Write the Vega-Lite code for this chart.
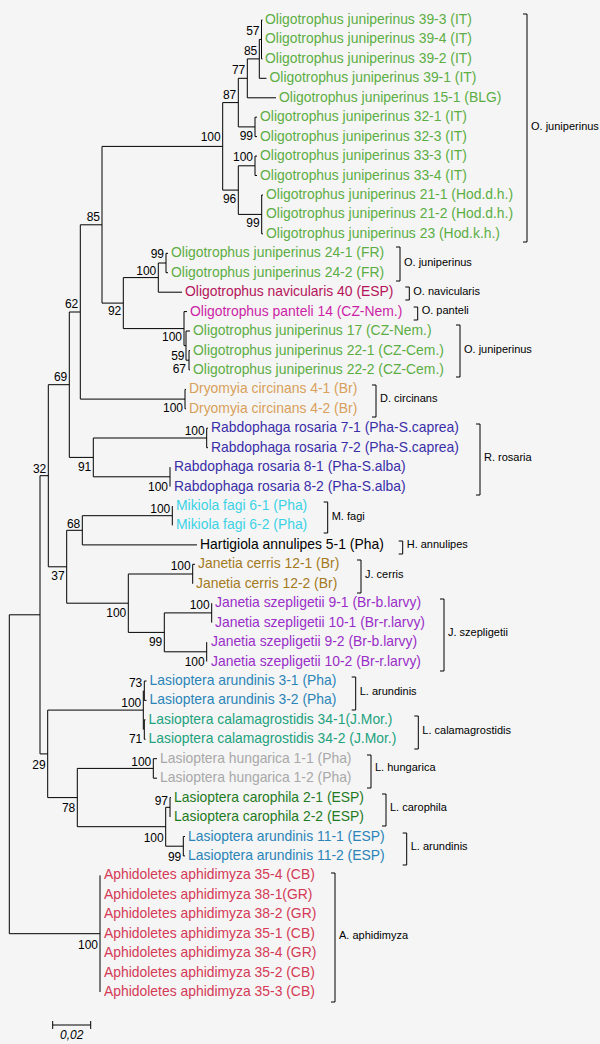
{
  "$schema": "https://vega.github.io/schema/vega-lite/v6.json",
  "width": 600,
  "height": 1044,
  "autosize": {"type": "fit", "contains": "padding"},
  "padding": 0,
  "background": "#f5f5f5",
  "config": {"view": {"stroke": null}, "text": {"font": "Liberation Sans"}},
  "datasets": {
    "edges": [
      {"x": 9.3, "y": 614.8, "x2": 9.3, "y2": 933.7},
      {"x": 9.3, "y": 614.8, "x2": 40, "y2": 614.8},
      {"x": 9.3, "y": 933.7, "x2": 100, "y2": 933.7},
      {"x": 40, "y": 475.7, "x2": 40, "y2": 753.9},
      {"x": 40, "y": 475.7, "x2": 48.3, "y2": 475.7},
      {"x": 40, "y": 753.9, "x2": 47.7, "y2": 753.9},
      {"x": 48.3, "y": 384.7, "x2": 48.3, "y2": 566.8},
      {"x": 48.3, "y": 384.7, "x2": 69.3, "y2": 384.7},
      {"x": 48.3, "y": 566.8, "x2": 66.7, "y2": 566.8},
      {"x": 69.3, "y": 312, "x2": 69.3, "y2": 457.4},
      {"x": 69.3, "y": 312, "x2": 80.3, "y2": 312},
      {"x": 69.3, "y": 457.4, "x2": 93.3, "y2": 457.4},
      {"x": 80.3, "y": 224.8, "x2": 80.3, "y2": 399.1},
      {"x": 80.3, "y": 224.8, "x2": 102, "y2": 224.8},
      {"x": 80.3, "y": 399.1, "x2": 185, "y2": 399.1},
      {"x": 102, "y": 146.4, "x2": 102, "y2": 303.1},
      {"x": 102, "y": 146.4, "x2": 222.7, "y2": 146.4},
      {"x": 102, "y": 303.1, "x2": 123.3, "y2": 303.1},
      {"x": 222.7, "y": 102.6, "x2": 222.7, "y2": 190.1},
      {"x": 222.7, "y": 102.6, "x2": 238.3, "y2": 102.6},
      {"x": 222.7, "y": 190.1, "x2": 238.3, "y2": 190.1},
      {"x": 238.3, "y": 78.3, "x2": 238.3, "y2": 126.9},
      {"x": 238.3, "y": 78.3, "x2": 247.3, "y2": 78.3},
      {"x": 238.3, "y": 126.9, "x2": 255, "y2": 126.9},
      {"x": 247.3, "y": 58.9, "x2": 247.3, "y2": 97.8},
      {"x": 247.3, "y": 58.9, "x2": 259.3, "y2": 58.9},
      {"x": 247.3, "y": 97.8, "x2": 276, "y2": 97.8},
      {"x": 259.3, "y": 39.4, "x2": 259.3, "y2": 78.3},
      {"x": 259.3, "y": 39.4, "x2": 261.5, "y2": 39.4},
      {"x": 259.3, "y": 78.3, "x2": 266.5, "y2": 78.3},
      {"x": 261.5, "y": 20, "x2": 261.5, "y2": 58.9},
      {"x": 261.5, "y": 20, "x2": 262.5, "y2": 20},
      {"x": 261.5, "y": 58.9, "x2": 262.5, "y2": 58.9},
      {"x": 255, "y": 117.2, "x2": 255, "y2": 136.6},
      {"x": 255, "y": 117.2, "x2": 257, "y2": 117.2},
      {"x": 255, "y": 136.6, "x2": 257, "y2": 136.6},
      {"x": 238.3, "y": 165.8, "x2": 238.3, "y2": 214.4},
      {"x": 238.3, "y": 165.8, "x2": 255, "y2": 165.8},
      {"x": 238.3, "y": 214.4, "x2": 261.7, "y2": 214.4},
      {"x": 255, "y": 156.1, "x2": 255, "y2": 175.5},
      {"x": 255, "y": 156.1, "x2": 257, "y2": 156.1},
      {"x": 255, "y": 175.5, "x2": 257, "y2": 175.5},
      {"x": 261.7, "y": 195, "x2": 261.7, "y2": 233.8},
      {"x": 261.7, "y": 195, "x2": 263, "y2": 195},
      {"x": 261.7, "y": 233.8, "x2": 263, "y2": 233.8},
      {"x": 123.3, "y": 277.6, "x2": 123.3, "y2": 328.6},
      {"x": 123.3, "y": 277.6, "x2": 158.3, "y2": 277.6},
      {"x": 123.3, "y": 328.6, "x2": 184, "y2": 328.6},
      {"x": 158.3, "y": 263, "x2": 158.3, "y2": 292.2},
      {"x": 158.3, "y": 263, "x2": 166, "y2": 263},
      {"x": 158.3, "y": 292.2, "x2": 182, "y2": 292.2},
      {"x": 166, "y": 253.3, "x2": 166, "y2": 272.7},
      {"x": 166, "y": 253.3, "x2": 168, "y2": 253.3},
      {"x": 166, "y": 272.7, "x2": 168, "y2": 272.7},
      {"x": 184, "y": 311.6, "x2": 184, "y2": 345.6},
      {"x": 184, "y": 311.6, "x2": 187, "y2": 311.6},
      {"x": 184, "y": 345.6, "x2": 186, "y2": 345.6},
      {"x": 186, "y": 331, "x2": 186, "y2": 360.2},
      {"x": 186, "y": 331, "x2": 190, "y2": 331},
      {"x": 186, "y": 360.2, "x2": 189, "y2": 360.2},
      {"x": 189, "y": 350.5, "x2": 189, "y2": 369.9},
      {"x": 189, "y": 350.5, "x2": 190, "y2": 350.5},
      {"x": 189, "y": 369.9, "x2": 190, "y2": 369.9},
      {"x": 185, "y": 389.4, "x2": 185, "y2": 408.8},
      {"x": 185, "y": 389.4, "x2": 186, "y2": 389.4},
      {"x": 185, "y": 408.8, "x2": 186, "y2": 408.8},
      {"x": 93.3, "y": 438, "x2": 93.3, "y2": 476.8},
      {"x": 93.3, "y": 438, "x2": 206.7, "y2": 438},
      {"x": 93.3, "y": 476.8, "x2": 170, "y2": 476.8},
      {"x": 206.7, "y": 428.2, "x2": 206.7, "y2": 447.7},
      {"x": 206.7, "y": 428.2, "x2": 208, "y2": 428.2},
      {"x": 206.7, "y": 447.7, "x2": 208, "y2": 447.7},
      {"x": 170, "y": 467.1, "x2": 170, "y2": 486.6},
      {"x": 66.7, "y": 530.3, "x2": 66.7, "y2": 603.2},
      {"x": 66.7, "y": 530.3, "x2": 82.3, "y2": 530.3},
      {"x": 66.7, "y": 603.2, "x2": 128.3, "y2": 603.2},
      {"x": 82.3, "y": 515.7, "x2": 82.3, "y2": 544.9},
      {"x": 82.3, "y": 515.7, "x2": 172.3, "y2": 515.7},
      {"x": 82.3, "y": 544.9, "x2": 197, "y2": 544.9},
      {"x": 172.3, "y": 506, "x2": 172.3, "y2": 525.4},
      {"x": 128.3, "y": 574, "x2": 128.3, "y2": 632.4},
      {"x": 128.3, "y": 574, "x2": 192.7, "y2": 574},
      {"x": 128.3, "y": 632.4, "x2": 164.3, "y2": 632.4},
      {"x": 192.7, "y": 564.3, "x2": 192.7, "y2": 583.8},
      {"x": 192.7, "y": 564.3, "x2": 195, "y2": 564.3},
      {"x": 164.3, "y": 612.9, "x2": 164.3, "y2": 651.8},
      {"x": 164.3, "y": 612.9, "x2": 211.7, "y2": 612.9},
      {"x": 164.3, "y": 651.8, "x2": 206.7, "y2": 651.8},
      {"x": 211.7, "y": 603.2, "x2": 211.7, "y2": 622.6},
      {"x": 206.7, "y": 642.1, "x2": 206.7, "y2": 661.5},
      {"x": 47.7, "y": 710.1, "x2": 47.7, "y2": 797.6},
      {"x": 47.7, "y": 710.1, "x2": 143.3, "y2": 710.1},
      {"x": 47.7, "y": 797.6, "x2": 77.3, "y2": 797.6},
      {"x": 143.3, "y": 690.7, "x2": 143.3, "y2": 729.6},
      {"x": 144.3, "y": 681, "x2": 144.3, "y2": 700.4},
      {"x": 144.3, "y": 681, "x2": 146.5, "y2": 681},
      {"x": 144.3, "y": 700.4, "x2": 146.5, "y2": 700.4},
      {"x": 144.3, "y": 719.8, "x2": 144.3, "y2": 739.3},
      {"x": 144.3, "y": 719.8, "x2": 145.5, "y2": 719.8},
      {"x": 144.3, "y": 739.3, "x2": 145.5, "y2": 739.3},
      {"x": 77.3, "y": 768.4, "x2": 77.3, "y2": 826.7},
      {"x": 77.3, "y": 768.4, "x2": 153.3, "y2": 768.4},
      {"x": 77.3, "y": 826.7, "x2": 165.7, "y2": 826.7},
      {"x": 153.3, "y": 758.7, "x2": 153.3, "y2": 778.2},
      {"x": 153.3, "y": 758.7, "x2": 157, "y2": 758.7},
      {"x": 153.3, "y": 778.2, "x2": 157, "y2": 778.2},
      {"x": 165.7, "y": 807.3, "x2": 165.7, "y2": 846.2},
      {"x": 165.7, "y": 807.3, "x2": 170, "y2": 807.3},
      {"x": 165.7, "y": 846.2, "x2": 183.3, "y2": 846.2},
      {"x": 170, "y": 797.6, "x2": 170, "y2": 817},
      {"x": 170, "y": 797.6, "x2": 171, "y2": 797.6},
      {"x": 183.3, "y": 836.5, "x2": 183.3, "y2": 855.9},
      {"x": 183.3, "y": 836.5, "x2": 185, "y2": 836.5},
      {"x": 183.3, "y": 855.9, "x2": 185, "y2": 855.9},
      {"x": 100, "y": 875.4, "x2": 100, "y2": 992},
      {"x": 52.7, "y": 1025, "x2": 90.7, "y2": 1025},
      {"x": 52.7, "y": 1021, "x2": 52.7, "y2": 1029},
      {"x": 90.7, "y": 1021, "x2": 90.7, "y2": 1029}
    ],
    "brackets": [
      {"x": 527, "y": 14, "x2": 527, "y2": 242}, {"x": 523, "y": 14, "x2": 527, "y2": 14}, {"x": 523, "y": 242, "x2": 527, "y2": 242},
      {"x": 400, "y": 247, "x2": 400, "y2": 281}, {"x": 396, "y": 247, "x2": 400, "y2": 247}, {"x": 396, "y": 281, "x2": 400, "y2": 281},
      {"x": 409.3, "y": 287, "x2": 409.3, "y2": 300}, {"x": 405.3, "y": 287, "x2": 409.3, "y2": 287}, {"x": 405.3, "y": 300, "x2": 409.3, "y2": 300},
      {"x": 417.7, "y": 307, "x2": 417.7, "y2": 320}, {"x": 413.7, "y": 307, "x2": 417.7, "y2": 307}, {"x": 413.7, "y": 320, "x2": 417.7, "y2": 320},
      {"x": 460, "y": 325, "x2": 460, "y2": 377}, {"x": 456, "y": 325, "x2": 460, "y2": 325}, {"x": 456, "y": 377, "x2": 460, "y2": 377},
      {"x": 376, "y": 385, "x2": 376, "y2": 417}, {"x": 372, "y": 385, "x2": 376, "y2": 385}, {"x": 372, "y": 417, "x2": 376, "y2": 417},
      {"x": 480, "y": 424, "x2": 480, "y2": 495}, {"x": 476, "y": 424, "x2": 480, "y2": 424}, {"x": 476, "y": 495, "x2": 480, "y2": 495},
      {"x": 327.7, "y": 502, "x2": 327.7, "y2": 533}, {"x": 323.7, "y": 502, "x2": 327.7, "y2": 502}, {"x": 323.7, "y": 533, "x2": 327.7, "y2": 533},
      {"x": 402.7, "y": 541, "x2": 402.7, "y2": 554}, {"x": 398.7, "y": 541, "x2": 402.7, "y2": 541}, {"x": 398.7, "y": 554, "x2": 402.7, "y2": 554},
      {"x": 361, "y": 560, "x2": 361, "y2": 593}, {"x": 357, "y": 560, "x2": 361, "y2": 560}, {"x": 357, "y": 593, "x2": 361, "y2": 593},
      {"x": 444, "y": 599, "x2": 444, "y2": 671}, {"x": 440, "y": 599, "x2": 444, "y2": 599}, {"x": 440, "y": 671, "x2": 444, "y2": 671},
      {"x": 355.7, "y": 677, "x2": 355.7, "y2": 710}, {"x": 351.7, "y": 677, "x2": 355.7, "y2": 677}, {"x": 351.7, "y": 710, "x2": 355.7, "y2": 710},
      {"x": 418.3, "y": 716, "x2": 418.3, "y2": 749}, {"x": 414.3, "y": 716, "x2": 418.3, "y2": 716}, {"x": 414.3, "y": 749, "x2": 418.3, "y2": 749},
      {"x": 371, "y": 755, "x2": 371, "y2": 788}, {"x": 367, "y": 755, "x2": 371, "y2": 755}, {"x": 367, "y": 788, "x2": 371, "y2": 788},
      {"x": 386, "y": 794, "x2": 386, "y2": 826}, {"x": 382, "y": 794, "x2": 386, "y2": 794}, {"x": 382, "y": 826, "x2": 386, "y2": 826},
      {"x": 406.7, "y": 833, "x2": 406.7, "y2": 865}, {"x": 402.7, "y": 833, "x2": 406.7, "y2": 833}, {"x": 402.7, "y": 865, "x2": 406.7, "y2": 865},
      {"x": 335, "y": 873, "x2": 335, "y2": 1002}, {"x": 331, "y": 873, "x2": 335, "y2": 873}, {"x": 331, "y": 1002, "x2": 335, "y2": 1002}
    ],
    "leaves": [
      {"x": 262, "y": 20, "label": "Oligotrophus juniperinus 39-3 (IT)", "species": "O. juniperinus"},
      {"x": 262, "y": 39.4, "label": "Oligotrophus juniperinus 39-4 (IT)", "species": "O. juniperinus"},
      {"x": 262, "y": 58.9, "label": "Oligotrophus juniperinus 39-2 (IT)", "species": "O. juniperinus"},
      {"x": 266.5, "y": 78.3, "label": "Oligotrophus juniperinus 39-1 (IT)", "species": "O. juniperinus"},
      {"x": 276, "y": 97.8, "label": "Oligotrophus juniperinus 15-1 (BLG)", "species": "O. juniperinus"},
      {"x": 257, "y": 117.2, "label": "Oligotrophus juniperinus 32-1 (IT)", "species": "O. juniperinus"},
      {"x": 257, "y": 136.6, "label": "Oligotrophus juniperinus 32-3 (IT)", "species": "O. juniperinus"},
      {"x": 257, "y": 156.1, "label": "Oligotrophus juniperinus 33-3 (IT)", "species": "O. juniperinus"},
      {"x": 257, "y": 175.5, "label": "Oligotrophus juniperinus 33-4 (IT)", "species": "O. juniperinus"},
      {"x": 263, "y": 195, "label": "Oligotrophus juniperinus 21-1 (Hod.d.h.)", "species": "O. juniperinus"},
      {"x": 263, "y": 214.4, "label": "Oligotrophus juniperinus 21-2 (Hod.d.h.)", "species": "O. juniperinus"},
      {"x": 263, "y": 233.8, "label": "Oligotrophus juniperinus 23 (Hod.k.h.)", "species": "O. juniperinus"},
      {"x": 168, "y": 253.3, "label": "Oligotrophus juniperinus 24-1 (FR)", "species": "O. juniperinus"},
      {"x": 168, "y": 272.7, "label": "Oligotrophus juniperinus 24-2 (FR)", "species": "O. juniperinus"},
      {"x": 182, "y": 292.2, "label": "Oligotrophus navicularis 40 (ESP)", "species": "O. navicularis"},
      {"x": 187, "y": 311.6, "label": "Oligotrophus panteli 14 (CZ-Nem.)", "species": "O. panteli"},
      {"x": 190, "y": 331, "label": "Oligotrophus juniperinus 17 (CZ-Nem.)", "species": "O. juniperinus"},
      {"x": 190, "y": 350.5, "label": "Oligotrophus juniperinus 22-1 (CZ-Cem.)", "species": "O. juniperinus"},
      {"x": 190, "y": 369.9, "label": "Oligotrophus juniperinus 22-2 (CZ-Cem.)", "species": "O. juniperinus"},
      {"x": 186, "y": 389.4, "label": "Dryomyia circinans 4-1 (Br)", "species": "D. circinans"},
      {"x": 186, "y": 408.8, "label": "Dryomyia circinans 4-2 (Br)", "species": "D. circinans"},
      {"x": 208, "y": 428.2, "label": "Rabdophaga rosaria 7-1 (Pha-S.caprea)", "species": "R. rosaria"},
      {"x": 208, "y": 447.7, "label": "Rabdophaga rosaria 7-2 (Pha-S.caprea)", "species": "R. rosaria"},
      {"x": 171, "y": 467.1, "label": "Rabdophaga rosaria 8-1 (Pha-S.alba)", "species": "R. rosaria"},
      {"x": 171, "y": 486.6, "label": "Rabdophaga rosaria 8-2 (Pha-S.alba)", "species": "R. rosaria"},
      {"x": 173, "y": 506, "label": "Mikiola fagi 6-1 (Pha)", "species": "M. fagi"},
      {"x": 173, "y": 525.4, "label": "Mikiola fagi 6-2 (Pha)", "species": "M. fagi"},
      {"x": 197, "y": 544.9, "label": "Hartigiola annulipes 5-1 (Pha)", "species": "H. annulipes"},
      {"x": 195, "y": 564.3, "label": "Janetia cerris 12-1 (Br)", "species": "J. cerris"},
      {"x": 193, "y": 583.8, "label": "Janetia cerris 12-2 (Br)", "species": "J. cerris"},
      {"x": 212, "y": 603.2, "label": "Janetia szepligetii 9-1 (Br-b.larvy)", "species": "J. szepligetii"},
      {"x": 212, "y": 622.6, "label": "Janetia szepligetii 10-1 (Br-r.larvy)", "species": "J. szepligetii"},
      {"x": 208, "y": 642.1, "label": "Janetia szepligetii 9-2 (Br-b.larvy)", "species": "J. szepligetii"},
      {"x": 208, "y": 661.5, "label": "Janetia szepligetii 10-2 (Br-r.larvy)", "species": "J. szepligetii"},
      {"x": 146.5, "y": 681, "label": "Lasioptera arundinis 3-1 (Pha)", "species": "L. arundinis"},
      {"x": 146.5, "y": 700.4, "label": "Lasioptera arundinis 3-2 (Pha)", "species": "L. arundinis"},
      {"x": 145.5, "y": 719.8, "label": "Lasioptera calamagrostidis 34-1(J.Mor.)", "species": "L. calamagrostidis"},
      {"x": 145.5, "y": 739.3, "label": "Lasioptera calamagrostidis 34-2 (J.Mor.)", "species": "L. calamagrostidis"},
      {"x": 157, "y": 758.7, "label": "Lasioptera hungarica 1-1 (Pha)", "species": "L. hungarica"},
      {"x": 157, "y": 778.2, "label": "Lasioptera hungarica 1-2 (Pha)", "species": "L. hungarica"},
      {"x": 171, "y": 797.6, "label": "Lasioptera carophila 2-1 (ESP)", "species": "L. carophila"},
      {"x": 171, "y": 817, "label": "Lasioptera carophila 2-2 (ESP)", "species": "L. carophila"},
      {"x": 185, "y": 836.5, "label": "Lasioptera arundinis 11-1 (ESP)", "species": "L. arundinis"},
      {"x": 185, "y": 855.9, "label": "Lasioptera arundinis 11-2 (ESP)", "species": "L. arundinis"},
      {"x": 101, "y": 875.4, "label": "Aphidoletes aphidimyza 35-4 (CB)", "species": "A. aphidimyza"},
      {"x": 101, "y": 894.8, "label": "Aphidoletes aphidimyza 38-1(GR)", "species": "A. aphidimyza"},
      {"x": 101, "y": 914.2, "label": "Aphidoletes aphidimyza 38-2 (GR)", "species": "A. aphidimyza"},
      {"x": 101, "y": 933.7, "label": "Aphidoletes aphidimyza 35-1 (CB)", "species": "A. aphidimyza"},
      {"x": 101, "y": 953.1, "label": "Aphidoletes aphidimyza 38-4 (GR)", "species": "A. aphidimyza"},
      {"x": 101, "y": 972.6, "label": "Aphidoletes aphidimyza 35-2 (CB)", "species": "A. aphidimyza"},
      {"x": 101, "y": 992, "label": "Aphidoletes aphidimyza 35-3 (CB)", "species": "A. aphidimyza"}
    ],
    "boot": [
      {"x": 261.5, "y": 31, "v": "57"}, {"x": 259.3, "y": 51, "v": "85"}, {"x": 247.3, "y": 70, "v": "77"},
      {"x": 238.3, "y": 95, "v": "87"}, {"x": 222.7, "y": 137, "v": "100"}, {"x": 255, "y": 136, "v": "99"},
      {"x": 255, "y": 157, "v": "100"}, {"x": 238.3, "y": 199, "v": "96"}, {"x": 261.7, "y": 223, "v": "99"},
      {"x": 102, "y": 217, "v": "85"}, {"x": 166, "y": 254, "v": "99"}, {"x": 158.3, "y": 271, "v": "100"},
      {"x": 123.3, "y": 311, "v": "92"}, {"x": 184, "y": 337, "v": "100"}, {"x": 186.5, "y": 356, "v": "59"},
      {"x": 188, "y": 369, "v": "67"}, {"x": 80.3, "y": 304, "v": "62"}, {"x": 185, "y": 408, "v": "100"},
      {"x": 69.3, "y": 377, "v": "69"}, {"x": 206.7, "y": 431, "v": "100"}, {"x": 170, "y": 487, "v": "100"},
      {"x": 93.3, "y": 467, "v": "91"}, {"x": 48.3, "y": 469, "v": "32"}, {"x": 172.3, "y": 509, "v": "100"},
      {"x": 82.3, "y": 524, "v": "68"}, {"x": 192.7, "y": 566, "v": "100"}, {"x": 211.7, "y": 605, "v": "100"},
      {"x": 128.3, "y": 613, "v": "100"}, {"x": 66.7, "y": 576, "v": "37"}, {"x": 164.3, "y": 642, "v": "99"},
      {"x": 206.7, "y": 662, "v": "100"}, {"x": 144.3, "y": 683, "v": "73"}, {"x": 143.3, "y": 703, "v": "100"},
      {"x": 144.3, "y": 739, "v": "71"}, {"x": 153.3, "y": 762, "v": "100"}, {"x": 170, "y": 801, "v": "97"},
      {"x": 165.7, "y": 838, "v": "100"}, {"x": 183.3, "y": 857, "v": "99"}, {"x": 77.3, "y": 808, "v": "78"},
      {"x": 47.7, "y": 765, "v": "29"}, {"x": 100, "y": 945, "v": "100"}
    ],
    "clades": [
      {"x": 527, "y": 127, "name": "O. juniperinus"},
      {"x": 400, "y": 263, "name": "O. juniperinus"},
      {"x": 409.3, "y": 292, "name": "O. navicularis"},
      {"x": 417.7, "y": 311, "name": "O. panteli"},
      {"x": 460, "y": 350, "name": "O. juniperinus"},
      {"x": 376, "y": 399, "name": "D. circinans"},
      {"x": 480, "y": 458, "name": "R. rosaria"},
      {"x": 327.7, "y": 517, "name": "M. fagi"},
      {"x": 402.7, "y": 545, "name": "H. annulipes"},
      {"x": 361, "y": 575, "name": "J. cerris"},
      {"x": 444, "y": 633, "name": "J. szepligetii"},
      {"x": 355.7, "y": 692, "name": "L. arundinis"},
      {"x": 418.3, "y": 731, "name": "L. calamagrostidis"},
      {"x": 371, "y": 768, "name": "L. hungarica"},
      {"x": 386, "y": 808, "name": "L. carophila"},
      {"x": 406.7, "y": 847, "name": "L. arundinis"},
      {"x": 335, "y": 936, "name": "A. aphidimyza"}
    ],
    "scale": [{"x": 71.7, "y": 1035, "t": "0,02"}]
  },
  "layer": [
    {
      "data": {"name": "edges"},
      "mark": {"type": "rule", "color": "#000000", "strokeWidth": 1},
      "encoding": {
        "x": {"field": "x", "type": "quantitative", "scale": {"domain": [0, 600], "nice": false, "zero": false}, "axis": null},
        "x2": {"field": "x2"},
        "y": {"field": "y", "type": "quantitative", "scale": {"domain": [0, 1044], "nice": false, "zero": false, "reverse": true}, "axis": null},
        "y2": {"field": "y2"}
      }
    },
    {
      "data": {"name": "brackets"},
      "mark": {"type": "rule", "color": "#000000", "strokeWidth": 1},
      "encoding": {
        "x": {"field": "x", "type": "quantitative", "scale": {"domain": [0, 600], "nice": false, "zero": false}, "axis": null},
        "x2": {"field": "x2"},
        "y": {"field": "y", "type": "quantitative", "scale": {"domain": [0, 1044], "nice": false, "zero": false, "reverse": true}, "axis": null},
        "y2": {"field": "y2"}
      }
    },
    {
      "data": {"name": "leaves"},
      "mark": {"type": "text", "align": "left", "baseline": "middle", "dx": 3, "fontSize": 13.9, "font": "Liberation Sans"},
      "encoding": {
        "x": {"field": "x", "type": "quantitative", "scale": {"domain": [0, 600], "nice": false, "zero": false}, "axis": null},
        "y": {"field": "y", "type": "quantitative", "scale": {"domain": [0, 1044], "nice": false, "zero": false, "reverse": true}, "axis": null},
        "text": {"field": "label"},
        "color": {
          "field": "species", "type": "nominal", "legend": null,
          "scale": {
            "domain": ["O. juniperinus", "O. navicularis", "O. panteli", "D. circinans", "R. rosaria", "M. fagi", "H. annulipes", "J. cerris", "J. szepligetii", "L. arundinis", "L. calamagrostidis", "L. hungarica", "L. carophila", "A. aphidimyza"],
            "range": ["#5cae44", "#b4145a", "#cc1fa6", "#d8a05a", "#3a2ea8", "#3cd2e6", "#000000", "#a47a1e", "#9a2ec8", "#2a84b8", "#22a27e", "#a8a8a8", "#1f7a1f", "#d43a55"]
          }
        }
      }
    },
    {
      "data": {"name": "boot"},
      "mark": {"type": "text", "align": "right", "baseline": "middle", "dx": -2, "fontSize": 12, "font": "Liberation Sans", "color": "#000000"},
      "encoding": {
        "x": {"field": "x", "type": "quantitative", "scale": {"domain": [0, 600], "nice": false, "zero": false}, "axis": null},
        "y": {"field": "y", "type": "quantitative", "scale": {"domain": [0, 1044], "nice": false, "zero": false, "reverse": true}, "axis": null},
        "text": {"field": "v"}
      }
    },
    {
      "data": {"name": "clades"},
      "mark": {"type": "text", "align": "left", "baseline": "middle", "dx": 4, "fontSize": 11, "font": "Liberation Sans Narrow, Liberation Sans", "color": "#000000"},
      "encoding": {
        "x": {"field": "x", "type": "quantitative", "scale": {"domain": [0, 600], "nice": false, "zero": false}, "axis": null},
        "y": {"field": "y", "type": "quantitative", "scale": {"domain": [0, 1044], "nice": false, "zero": false, "reverse": true}, "axis": null},
        "text": {"field": "name"}
      }
    },
    {
      "data": {"name": "scale"},
      "mark": {"type": "text", "align": "center", "baseline": "middle", "fontSize": 12, "fontStyle": "italic", "font": "Liberation Sans", "color": "#000000"},
      "encoding": {
        "x": {"field": "x", "type": "quantitative", "scale": {"domain": [0, 600], "nice": false, "zero": false}, "axis": null},
        "y": {"field": "y", "type": "quantitative", "scale": {"domain": [0, 1044], "nice": false, "zero": false, "reverse": true}, "axis": null},
        "text": {"field": "t"}
      }
    }
  ]
}
